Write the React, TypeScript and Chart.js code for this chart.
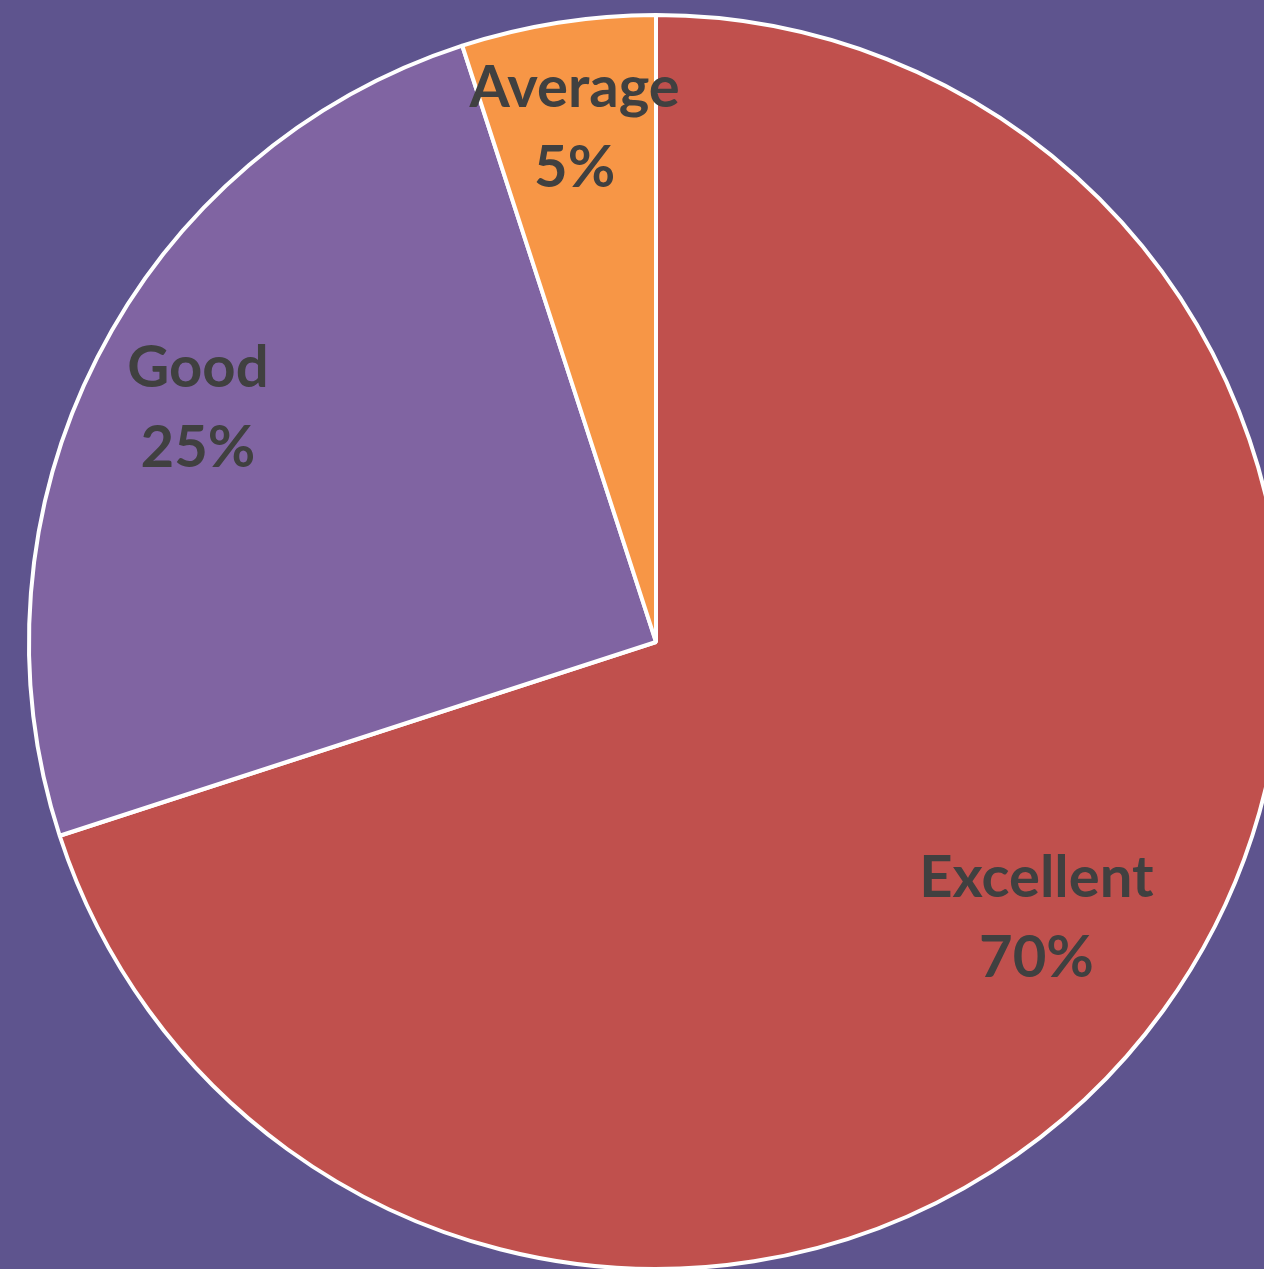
import React, { useEffect, useRef } from "react";
import { Chart, registerables } from "chart.js";

Chart.register(...registerables);

const categories = ["Excellent", "Good", "Average"];
const values = [70, 25, 5];
const percentLabels = ["70%", "25%", "5%"];
const sliceColors = ["#C0504D", "#8064A2", "#F79646"];

const BG = "#5E548E";
const CANVAS_W = 1312;
const CANVAS_H = 1284;

const labelPlugin = {
  id: "sliceLabels",
  afterDatasetsDraw(chart: any, _args: any, opts: any) {
    const ctx = chart.ctx;
    const meta = chart.getDatasetMeta(0);
    const fracs: number[] = opts.radiusFractions || [];
    ctx.save();
    ctx.fillStyle = "#404040";
    ctx.font = "bold 58px Lato";
    ctx.textAlign = "center";
    ctx.textBaseline = "middle";
    meta.data.forEach((arc: any, i: number) => {
      const p = arc.getProps(["x", "y", "startAngle", "endAngle", "outerRadius"], true);
      const mid = (p.startAngle + p.endAngle) / 2;
      const r = p.outerRadius * (fracs[i] ?? 0.75);
      const cx = p.x + Math.cos(mid) * r;
      const cy = p.y + Math.sin(mid) * r;
      ctx.fillText(categories[i], cx, cy - 40);
      ctx.fillText(percentLabels[i], cx, cy + 40);
    });
    ctx.restore();
  },
};

export default function App() {
  const ref = useRef<HTMLCanvasElement | null>(null);

  useEffect(() => {
    if (!ref.current) return;
    const chart = new Chart(ref.current, {
      type: "pie",
      data: {
        labels: categories,
        datasets: [
          {
            data: values,
            backgroundColor: sliceColors,
            borderColor: "#FFFFFF",
            borderWidth: 4,
          },
        ],
      },
      options: {
        responsive: false,
        animation: false,
        devicePixelRatio: 1,
        layout: { padding: 13 },
        plugins: {
          legend: { display: false },
          tooltip: { enabled: false },
          sliceLabels: { radiusFractions: [0.75, 0.82, 0.83] },
        } as any,
      },
      plugins: [labelPlugin],
    });
    return () => chart.destroy();
  }, []);

  return (
    <div
      style={{
        position: "fixed",
        left: 0,
        top: 0,
        width: "100vw",
        height: "100vh",
        overflow: "hidden",
        background: BG,
      }}
    >
      <canvas
        ref={ref}
        width={CANVAS_W}
        height={CANVAS_H}
        style={{ position: "absolute", left: 0, top: 0, width: CANVAS_W, height: CANVAS_H }}
      />
    </div>
  );
}
